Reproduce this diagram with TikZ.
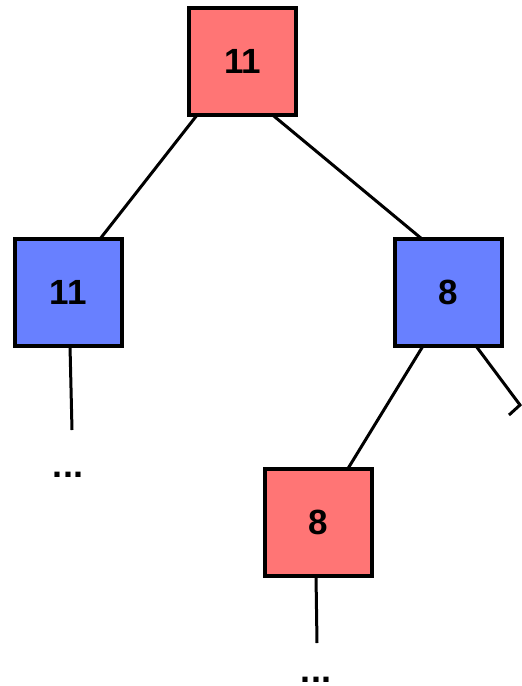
\documentclass[tikz,border=0pt]{standalone}
\usepackage{fontspec}
\setmainfont{Liberation Sans}
\definecolor{boxred}{RGB}{255,117,117}
\definecolor{boxblue}{RGB}{104,128,255}
\newcommand{\boxlabel}[1]{\raisebox{-3.5pt}{#1}}
\begin{document}
\begin{tikzpicture}[x=1pt,y=-1pt,
  treebox/.style={draw=black,line width=4pt,minimum size=107pt,inner sep=0pt,outer sep=0pt,font=\fontsize{35}{40}\selectfont\bfseries},
  redbox/.style={treebox,fill=boxred},
  bluebox/.style={treebox,fill=boxblue},
  edge/.style={draw=black,line width=3pt},
  dots/.style={inner sep=0pt,anchor=base,font=\fontsize{36}{36}\selectfont\bfseries}]
\useasboundingbox (0,0) rectangle (522,686);
\node[redbox] (root) at (242.5,61) {\boxlabel{11}};
\node[bluebox] (left) at (68,292.5) {\boxlabel{11}};
\node[bluebox] (right) at (448.5,292.5) {\boxlabel{8}};
\node[redbox] (bottom) at (318.5,522) {\boxlabel{8}};
\node[dots] (ldots) at (68,477) {...};
\node[dots] (bdots) at (316,682) {...};
\coordinate (lend) at (72,430);
\coordinate (bend) at (317,643);
\coordinate (rcorner) at (520,405);
\coordinate (rend) at (509,415);
\draw[edge] ([xshift=-45pt]root.south) -- ([xshift=32pt]left.north);
\draw[edge] ([xshift=29.5pt]root.south) -- ([xshift=-26.5pt]right.north);
\draw[edge] ([xshift=2pt]left.south) -- (lend);
\draw[edge] ([xshift=-25.5pt]right.south) -- ([xshift=29.5pt]bottom.north);
\draw[edge] ([xshift=27.5pt]right.south) -- (rcorner) -- (rend);
\draw[edge] ([xshift=-2.5pt]bottom.south) -- (bend);
\end{tikzpicture}
\end{document}
